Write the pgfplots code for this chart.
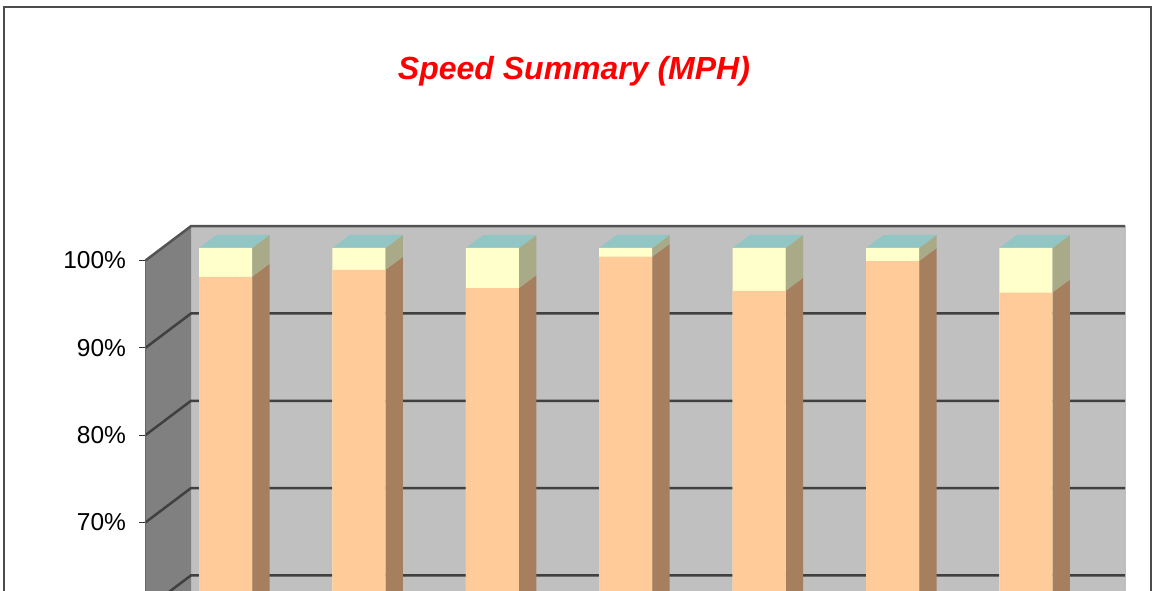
\documentclass[border=0pt]{standalone}
\usepackage{pgfplots}
\pgfplotsset{compat=1.18}
\usepackage{pgfplotstable}
\usepackage{fontspec}
\setmainfont{Liberation Sans}
\definecolor{wallback}{HTML}{C0C0C0}
\definecolor{wallside}{HTML}{808080}
\definecolor{gridc}{HTML}{404040}
\definecolor{frontorange}{HTML}{FFCC99}
\definecolor{sideorange}{HTML}{A67F5E}
\definecolor{frontyellow}{HTML}{FFFFCC}
\definecolor{sideyellow}{HTML}{A9AA88}
\definecolor{topteal}{HTML}{92C6C4}

\pgfplotstableread{
x a b
1 96.7 3.3
2 97.5 2.5
3 95.4 4.6
4 99.0 1.0
5 95.1 4.9
6 98.5 1.5
7 94.9 5.1
}\speeddata

\begin{document}
\begin{tikzpicture}
\useasboundingbox (0pt,0pt) rectangle (1156pt,591pt);
\fill[white] (0pt,0pt) rectangle (1156pt,591pt);
\draw[black!70, line width=1.5pt] (4pt,-20pt) -- (4pt,584pt) -- (1151pt,584pt) -- (1151pt,-20pt);
\node[text=red, font=\fontsize{32}{38}\selectfont\bfseries\itshape] at (574pt,520pt) {Speed Summary (MPH)};
\begin{axis}[
  at={(145.5pt,-49.85pt)}, anchor=south west,
  scale only axis,
  x=133.4pt, y=8.73pt,
  xmin=0.4003, xmax=7.9, ymin=55, ymax=98.57,
  clip=false,
  axis on top,
  axis x line=none,
  axis y line=left,
  y axis line style={draw=wallside!80!black, line width=1pt, -},
  ytick={58.57,68.57,78.57,88.57,98.57},
  yticklabels={,70\%,80\%,90\%,100\%},
  tick align=outside,
  major tick length=6pt,
  ytick style={black!80, line width=1pt},
  yticklabel style={font=\fontsize{24.5}{28}\selectfont, text=black, xshift=-10pt},
]
% walls
\fill[wallback] (axis cs:0.7414,40) rectangle (axis cs:7.743,102.5);
\fill[wallside] (axis cs:0.4003,40) -- (axis cs:0.4003,98.57) -- (axis cs:0.7414,102.5) -- (axis cs:0.7414,40) -- cycle;
\draw[black!25, line width=1.5pt] (axis cs:7.743,102.5) -- (axis cs:7.743,40);
% gridlines
\pgfplotsinvokeforeach{60,70,80,90}{
  \addplot[draw=gridc, line width=2.5pt, mark=none] coordinates {(0.4003,#1-1.43) (0.7414,#1+2.5) (7.743,#1+2.5)};
}
\draw[gridc!90, line width=2.5pt] (axis cs:0.4003,98.57) -- (axis cs:0.7414,102.5) -- (axis cs:7.743,102.5);
% side and top faces
\pgfplotsinvokeforeach{0,...,6}{
  \pgfplotstablegetelem{#1}{x}\of\speeddata \let\cx\pgfplotsretval
  \pgfplotstablegetelem{#1}{a}\of\speeddata \let\ca\pgfplotsretval
  \pgfplotstablegetelem{#1}{b}\of\speeddata \let\cb\pgfplotsretval
  \pgfmathsetmacro\xR{\cx+0.1987}
  \pgfmathsetmacro\xRR{\cx+0.1987+0.1312}
  \pgfmathsetmacro\xL{\cx-0.1987}
  \pgfmathsetmacro\xLR{\cx-0.1987+0.1312}
  \pgfmathsetmacro\yT{\ca+\cb}
  \pgfmathsetmacro\yTD{\ca+\cb+1.489}
  \pgfmathsetmacro\yAD{\ca+1.489}
  \edef\doplot{%
    \noexpand\addplot[fill=sideorange, draw=none, mark=none] coordinates {(\xR,0) (\xR,\ca) (\xRR,\yAD) (\xRR,1.489)} -- cycle;
    \noexpand\addplot[fill=sideyellow, draw=none, mark=none] coordinates {(\xR,\ca) (\xR,\yT) (\xRR,\yTD) (\xRR,\yAD)} -- cycle;
    \noexpand\addplot[fill=topteal, draw=none, mark=none] coordinates {(\xL,\yT) (\xR,\yT) (\xRR,\yTD) (\xLR,\yTD)} -- cycle;
  }\doplot
}
% front faces
\addplot[ybar, bar width=53pt, bar shift=0pt, fill=frontyellow, draw=none]
  table[x=x, y expr=\thisrow{a}+\thisrow{b}] {\speeddata};
\addplot[ybar, bar width=53pt, bar shift=0pt, fill=frontorange, draw=none]
  table[x=x, y=a] {\speeddata};
\end{axis}
\end{tikzpicture}
\end{document}
